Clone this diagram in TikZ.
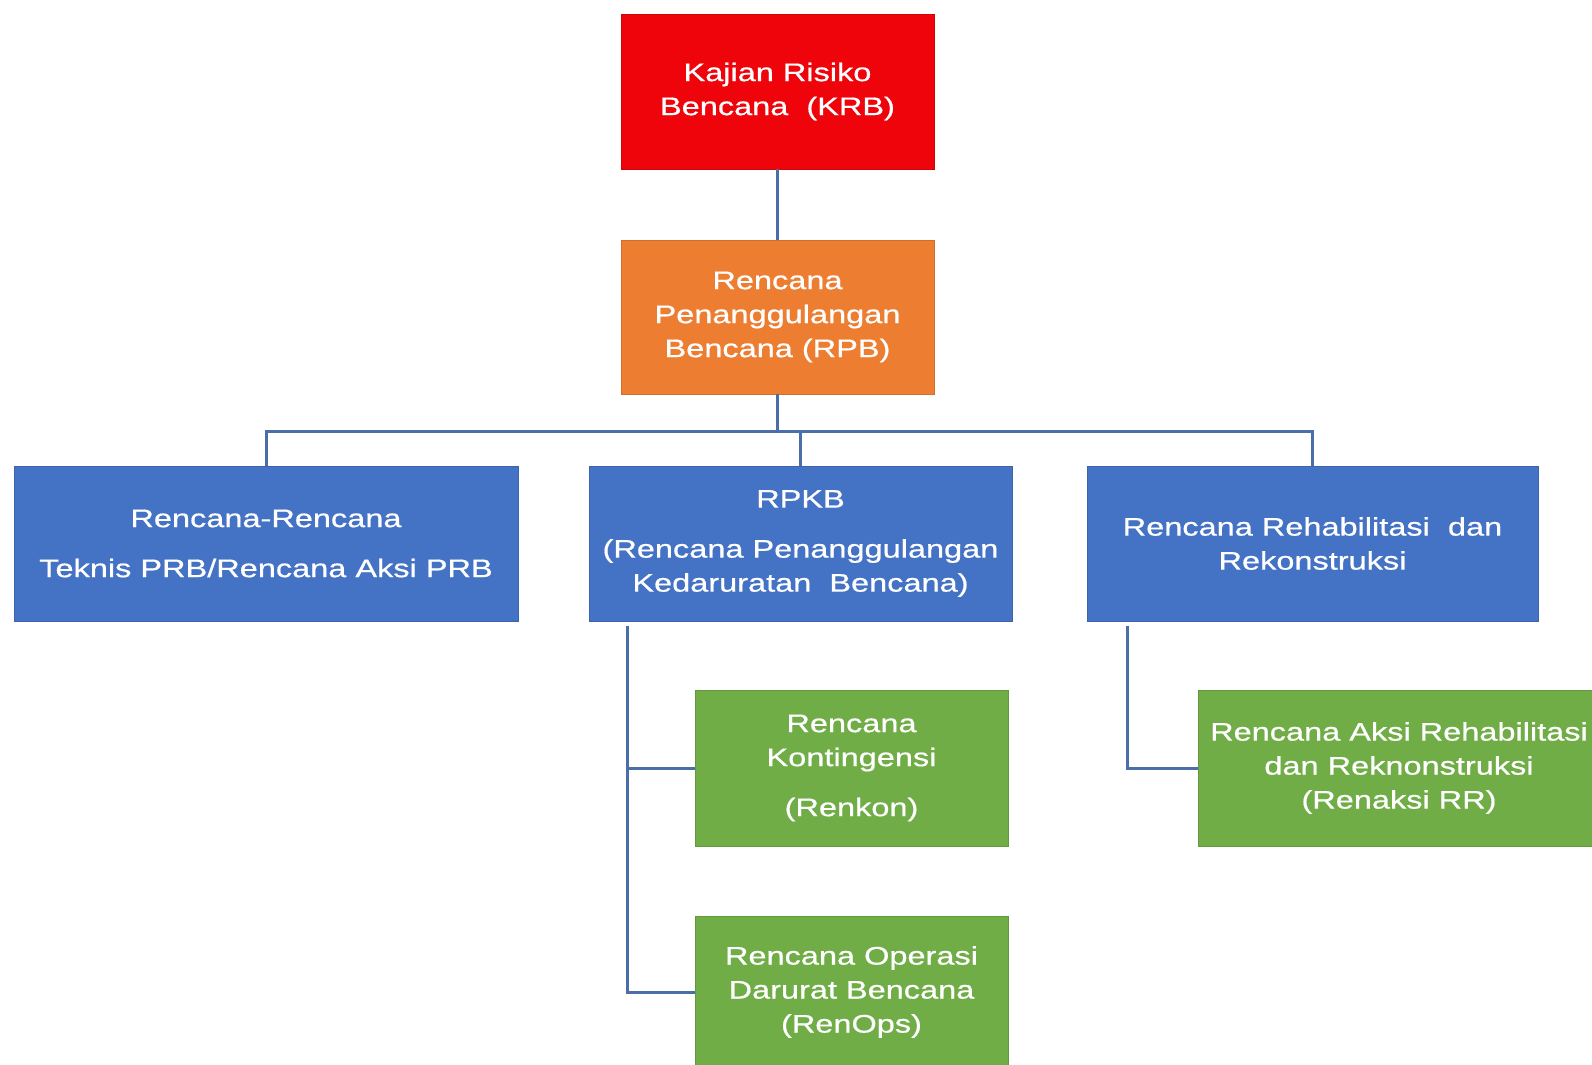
\documentclass[tikz,border=0pt]{standalone}
\usepackage{fontspec}
\setmainfont{Liberation Sans}[FakeStretch=1.28,FakeBold=0.6]
\definecolor{cred}{RGB}{238,4,10}
\definecolor{corange}{RGB}{237,125,49}
\definecolor{cblue}{RGB}{68,114,196}
\definecolor{cgreen}{RGB}{112,173,71}
\definecolor{cline}{RGB}{74,110,168}
\tikzset{
  box/.style={rectangle, inner sep=0pt, align=center, text=white,
    font=\fontsize{12.7}{17}\selectfont, draw=#1!88!black, line width=0.4pt, fill=#1},
  conn/.style={draw=cline, line width=1.5pt}
}
\begin{document}
\begin{tikzpicture}[x=0.5pt,y=-0.5pt]
\clip (0,0) rectangle (1592,1065);
\fill[white] (0,0) rectangle (1592,1065);
\node[box=cred, minimum width=156.5pt, minimum height=77.5pt] (krb) at (777.5,91.5)
  {Kajian Risiko\\Bencana\ \ (KRB)};
\node[box=corange, minimum width=156.5pt, minimum height=77pt] (rpb) at (777.5,317)
  {Rencana\\Penanggulangan\\Bencana (RPB)};
\node[box=cblue, minimum width=252pt, minimum height=77.5pt] (left) at (266,543.5)
  {Rencana-Rencana\\[8pt]Teknis\ PRB/Rencana Aksi PRB};
\node[box=cblue, minimum width=211.5pt, minimum height=77.5pt] (mid) at (800.5,543.5)
  {RPKB\\[8pt](Rencana Penanggulangan\\Kedaruratan\ \ Bencana)};
\node[box=cblue, minimum width=225.5pt, minimum height=77.5pt] (right) at (1312.5,543.5)
  {Rencana Rehabilitasi\ \ dan\\Rekonstruksi};
\node[box=cgreen, minimum width=156.5pt, minimum height=78pt] (renkon) at (851.5,768)
  {Rencana\\Kontingensi\\[8pt](Renkon)};
\node[box=cgreen, minimum width=156.5pt, minimum height=76pt] (renops) at (851.5,992)
  {Rencana Operasi\\Darurat Bencana\\(RenOps)};
\node[box=cgreen, minimum width=201pt, minimum height=78pt] (rr) at (1399,768)
  {Rencana Aksi Rehabilitasi\\dan Reknonstruksi\\(Renaksi RR)};
\coordinate (bus) at (777.5,431);
\coordinate (mj) at (627,626);
\coordinate (rj) at (1127,626);
\draw[conn] (krb) -- (rpb);
\draw[conn] (rpb.south) -- (bus);
\draw[conn] (left.north) |- (bus) -| (right.north);
\draw[conn] (mid.north) -- (mid.north |- bus);
\draw[conn] (mj) |- (renkon.west);
\draw[conn] (mj) |- (renops.west);
\draw[conn] (rj) |- (rr.west);
\end{tikzpicture}
\end{document}
